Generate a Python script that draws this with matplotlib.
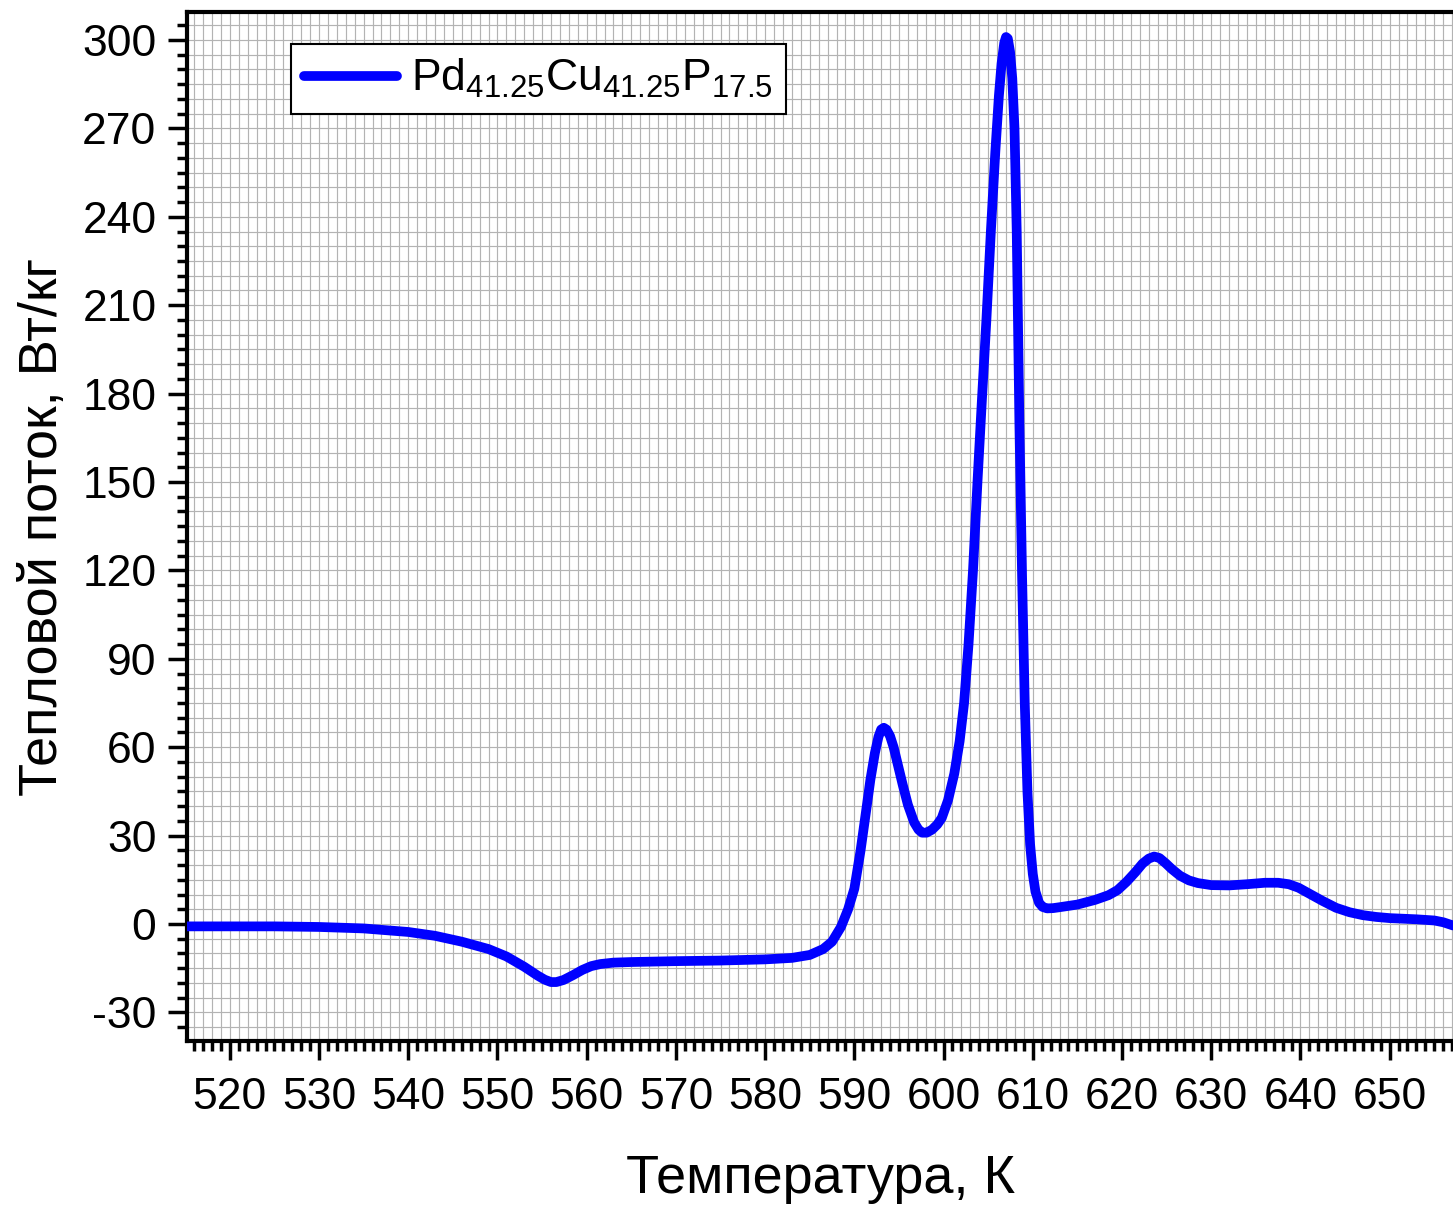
import numpy as np
import matplotlib
matplotlib.use("Agg")
import matplotlib.pyplot as plt
from matplotlib.ticker import MultipleLocator

plt.rcParams['font.family'] = ['Liberation Sans', 'DejaVu Sans']
plt.rcParams['mathtext.fontset'] = 'custom'
plt.rcParams['mathtext.rm'] = 'Liberation Sans'
plt.rcParams['mathtext.default'] = 'regular'

temperature = [515, 520, 525, 530, 535, 540, 543, 546, 549, 551, 553, 554.5, 555.3, 556,
               556.6, 557.4, 558.5, 559.5, 560.5, 561.5, 563, 565, 570, 575, 580, 583, 585,
               586.5, 587.5, 588.5, 589.3, 590, 590.7, 591.3, 591.8, 592.3, 592.7, 593.0,
               593.3, 593.6, 594.0, 594.4, 594.8, 595.4, 596, 596.7, 597.2, 597.6, 598.1,
               598.7, 599.3, 599.8, 600.5, 601.2, 601.8, 602.3, 602.8, 603.3, 603.8, 604.3,
               604.8, 605.3, 605.8, 606.2, 606.5, 606.8, 607.0, 607.2, 607.45, 607.7,
               607.95, 608.2, 608.5, 608.8, 609.1, 609.4, 609.7, 610.0, 610.3, 610.7,
               611.1, 611.6, 612.3, 613, 615, 617, 618.5, 619.5, 620.5, 621.5, 622.3,
               623.0, 623.6, 624.2, 624.9, 625.6, 626.5, 627.5, 628.5, 630, 632, 634,
               636, 637.5, 638.7, 639.8, 641, 642.5, 644, 645.5, 647, 648.5, 650, 653,
               655, 656, 657.1]
heat_flow = [-0.8, -0.8, -0.8, -1.0, -1.5, -2.7, -4.0, -6.0, -8.5, -11, -14.5, -17.5, -18.9, -19.7,
             -19.7, -19.0, -17.3, -15.6, -14.3, -13.6, -13.1, -12.9, -12.6, -12.4, -12, -11.5, -10.5,
             -8.5, -6, -1, 5, 12, 25, 38, 49, 58, 63.5, 66,
             66.6, 66.0, 63.8, 60, 55, 47.5, 40.5, 34.5, 32, 31, 31,
             32, 33.8, 36, 42, 51, 62, 75, 95, 120, 150, 178,
             205, 235, 262, 281, 292, 299, 301, 300.5, 296, 287,
             270, 235, 170, 118, 75, 45, 27, 17, 11, 7.2,
             5.8, 5.3, 5.4, 5.7, 6.6, 8.2, 9.8, 11.5, 14.3, 17.6, 20.5,
             22.2, 22.9, 22.4, 20.6, 18.6, 16.4, 14.8, 13.9, 13.2, 13.1, 13.5,
             14, 14, 13.5, 12.3, 10.3, 7.8, 5.5, 4.0, 3.0, 2.4, 2.0, 1.6,
             1.2, 0.6, -0.5]

x_ticks = [520, 530, 540, 550, 560, 570, 580, 590, 600, 610, 620, 630, 640, 650]
y_ticks = [-30, 0, 30, 60, 90, 120, 150, 180, 210, 240, 270, 300]
series_label = r'Pd$_{41.25}$Cu$_{41.25}$P$_{17.5}$'

fig = plt.figure(figsize=(14.53, 12.06), dpi=100)
ax = fig.add_axes([187/1453, 1 - 1041/1206, 1 - 187/1453, (1041 - 12)/1206])

ax.plot(temperature, heat_flow, color='#0000FF', lw=7, solid_capstyle='round',
        solid_joinstyle='round', label=series_label, zorder=3)

ax.set_xlim(515.2, 657.1)
ax.set_ylim(-39.7, 309.5)
ax.set_xticks(x_ticks)
ax.set_yticks(y_ticks)
ax.set_yticklabels([str(v) for v in y_ticks])
ax.xaxis.set_minor_locator(MultipleLocator(1))
ax.yaxis.set_minor_locator(MultipleLocator(5))

ax.grid(which='both', color='#b3b3b3', lw=0.85, zorder=0)
ax.set_axisbelow(True)

for s in ['left', 'bottom', 'top']:
    ax.spines[s].set_linewidth(3)
ax.spines['right'].set_visible(False)

ax.tick_params(which='major', direction='out', length=14, width=2.5, labelsize=32, pad=8)
ax.tick_params(which='minor', direction='out', length=7, width=2.5)
ax.tick_params(axis='x', pad=12)

ax.set_xlabel('Температура, К', fontsize=39, labelpad=26)
ax.set_ylabel('Тепловой поток, Вт/кг', fontsize=39, labelpad=10)

leg = ax.legend(loc='upper left', bbox_to_anchor=(0.082, 0.969), borderaxespad=0,
                fontsize=32, frameon=True, fancybox=False, edgecolor='black',
                framealpha=1, handlelength=2.1, borderpad=0.3, handletextpad=0.3)
leg.get_frame().set_linewidth(1.5)

fig.savefig('out.png', dpi=100)
